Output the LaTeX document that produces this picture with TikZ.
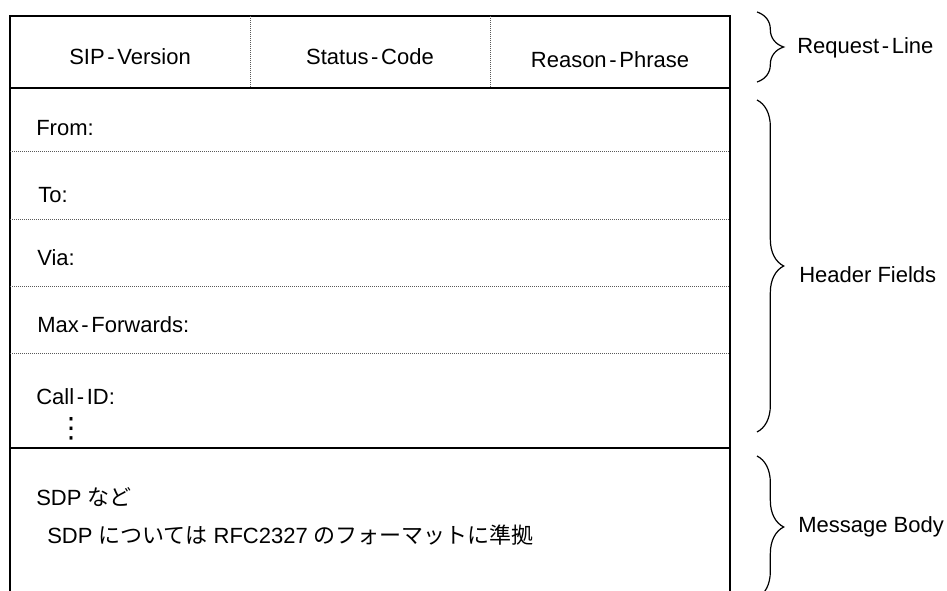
\documentclass[tikz,border=0pt]{standalone}
\usepackage{fontspec}
\setmainfont{Liberation Sans}
\newfontfamily\jp{Noto Sans CJK JP}
\newfontfamily\sym{DejaVu Sans}
\usetikzlibrary{decorations.pathreplacing}
\newcommand\hy{\kern2pt-\kern2pt}
\tikzstyle{frame}=[line width=1.1pt]
\tikzstyle{rowsep}=[line width=0.6pt,black!65,dash pattern=on 0.75pt off 0.75pt]
\tikzstyle{cell}=[inner sep=0pt]
\tikzstyle{field}=[anchor=west,inner sep=0pt]
\tikzstyle{curly}=[decorate,decoration={brace,amplitude=20pt},line width=0.9pt]

\begin{document}
\begin{tikzpicture}[x=0.75pt,y=-0.75pt,every node/.style={font=\fontsize{16.5}{19}\selectfont}]
        \useasboundingbox (0,0) rectangle (947,591);
        \clip (0,0) rectangle (947,591);
        \draw [frame] (10,600) -- (10,16) -- (730,16) -- (730,600);
        \draw [frame] (10,88) -- (730,88);
        \draw [frame] (10,448) -- (730,448);
        \draw [rowsep] (250,16) -- (250,88);
        \draw [rowsep] (490,16) -- (490,88);
        \foreach \y in {151,219,286,353}
          \draw [rowsep] (10,\y) -- (730,\y);
        \node at (130,57) [cell] (version) {SIP\hy Version};
        \node at (370,57) [cell] (status) {Status\hy Code};
        \node at (610,60) [cell] (reason) {Reason\hy Phrase};
        \node at (36,128) [field] (from) {From:};
        \node at (38,195) [field] (to) {To:};
        \node at (37,258) [field] (via) {Via:};
        \node at (37,325) [field] (maxfw) {Max\hy Forwards:};
        \node at (36,397) [field] (callid) {Call\hy ID:};
        \node at (71,438) [cell,anchor=base,font=\sym\fontsize{21}{21}\selectfont] (more) {⋮};
        \node at (36,497) [field] (sdp) {SDP {\jp など}};
        \node at (47,535) [field] (rfc) {SDP {\jp については} RFC2327 {\jp のフォーマットに準拠}};
        \coordinate (rl top) at (757,12);
        \coordinate (rl bot) at (757,82);
        \coordinate (hf top) at (757,100);
        \coordinate (hf bot) at (757,432);
        \coordinate (mb top) at (757,456);
        \coordinate (mb bot) at (757,598);
        \draw [curly] (rl top) -- (rl bot);
        \draw [curly] (hf top) -- (hf bot);
        \draw [curly] (mb top) -- (mb bot);
        \node at (797,48) [field] (reqline) {Request\hy Line};
        \node at (799,275) [field] (header) {Header Fields};
        \node at (798,527) [field] (body) {Message Body};
      \end{tikzpicture}
\end{document}
